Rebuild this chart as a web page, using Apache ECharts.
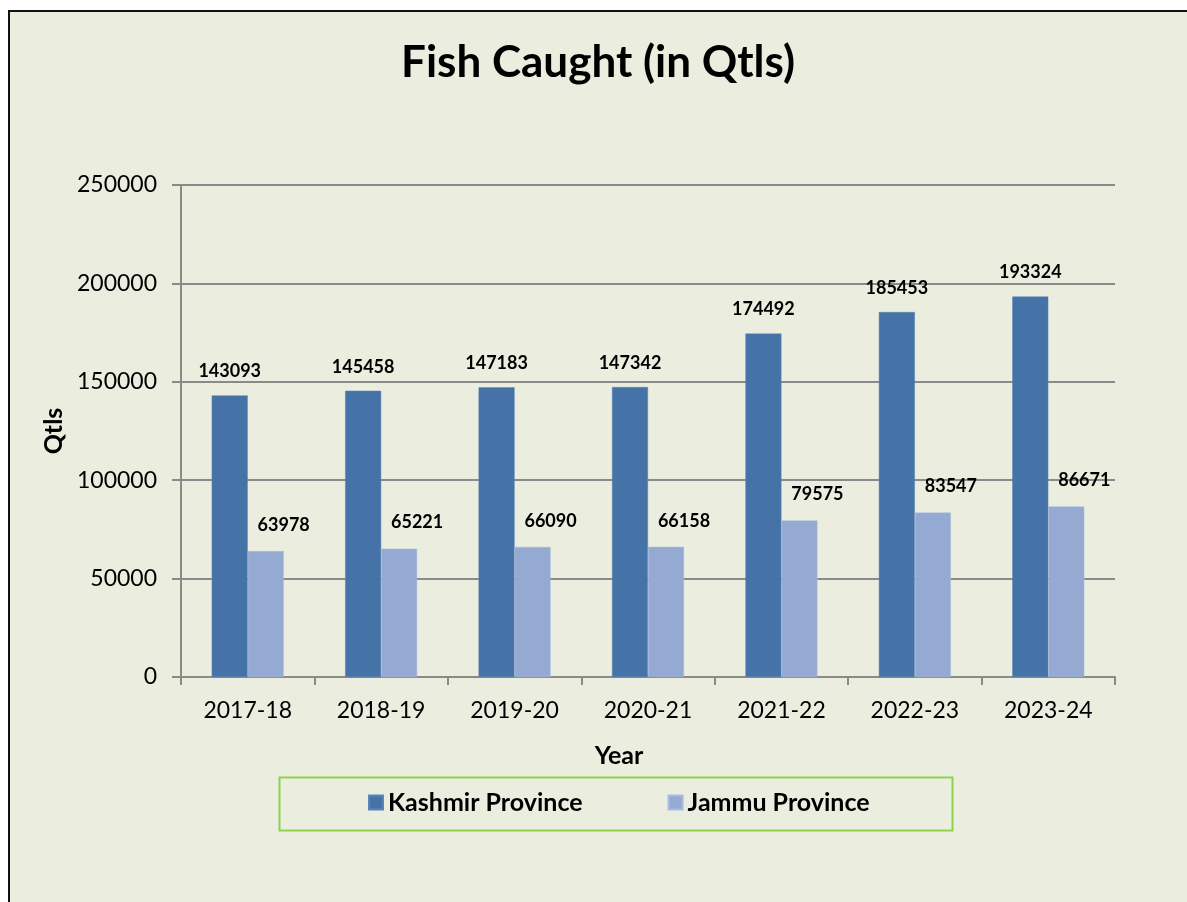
<!DOCTYPE html>
<html>
<head>
<meta charset="utf-8">
<script src="https://cdn.jsdelivr.net/npm/echarts@6/dist/echarts.min.js"></script>
<style>
html,body{margin:0;padding:0;background:#ffffff;width:1187px;height:902px;overflow:hidden;}
#box{position:absolute;left:8px;top:10px;width:1200px;height:920px;border:2px solid #111;background:#EBEEDF;box-sizing:border-box;}
#chart{position:absolute;left:0;top:0;width:1187px;height:902px;}
</style>
</head>
<body>
<div id="box"></div>
<div id="chart"></div>
<script>
const categories = ['2017-18','2018-19','2019-20','2020-21','2021-22','2022-23','2023-24'];
const kashmir = [143093,145458,147183,147342,174492,185453,193324];
const jammu = [63978,65221,66090,66158,79575,83547,86671];
const seriesNames = ['Kashmir Province','Jammu Province'];
const yTicks = {min:0, max:250000, interval:50000};

const FONT = 'Lato';
const chart = echarts.init(document.getElementById('chart'), null, {renderer:'canvas'});
chart.setOption({
  backgroundColor: 'transparent',
  animation: false,
  title: {
    text: 'Fish Caught (in Qtls)',
    left: 593, top: 36, textAlign: 'center',
    textStyle: {fontFamily: FONT, fontWeight: 'bold', fontSize: 44, color: '#000'}
  },
  graphic: [{
    type: 'rect', left: 277, top: 775, silent: true,
    shape: {width: 673, height: 53},
    style: {fill: 'none', stroke: '#92D050', lineWidth: 2}
  }],
  legend: {
    left: 363, top: 785,
    itemWidth: 14, itemHeight: 14, itemGap: 85,
    icon: 'rect',
    textStyle: {fontFamily: FONT, fontWeight: 'bold', fontSize: 25, color: '#000'},
    data: seriesNames
  },
  grid: {left: 181, right: 72, top: 185, bottom: 225, containLabel: false},
  xAxis: {
    type: 'category', data: categories,
    name: 'Year', nameLocation: 'middle', nameGap: 66,
    nameTextStyle: {fontFamily: FONT, fontWeight: 'bold', fontSize: 25, color: '#000', verticalAlign: 'top', padding: [0, 58, 0, 0]},
    axisLine: {lineStyle: {color: '#8a8a8a', width: 2}},
    axisTick: {show: true, length: 8, lineStyle: {color: '#8a8a8a', width: 2}},
    axisLabel: {fontFamily: FONT, fontSize: 23, color: '#000', margin: 22}
  },
  yAxis: {
    type: 'value', min: yTicks.min, max: yTicks.max, interval: yTicks.interval,
    name: 'Qtls', nameLocation: 'middle', nameGap: 114, nameRotate: 90,
    nameTextStyle: {fontFamily: FONT, fontWeight: 'bold', fontSize: 25, color: '#000'},
    axisLine: {show: true, lineStyle: {color: '#8a8a8a', width: 2}},
    axisTick: {show: true, length: 9, lineStyle: {color: '#8a8a8a', width: 2}},
    axisLabel: {fontFamily: FONT, fontSize: 23, color: '#000', margin: 24, formatter: v => String(v)},
    splitLine: {lineStyle: {color: '#8a8a8a', width: 2}}
  },
  series: [
    {
      name: seriesNames[0], type: 'bar', data: kashmir,
      barWidth: 36, barGap: '0%',
      itemStyle: {color: '#4572A7', borderColor: '#5a85b8', borderWidth: 0.5},
      label: {show: true, position: 'top', distance: 15,
        fontFamily: FONT, fontWeight: 'bold', fontSize: 18, color: '#000'}
    },
    {
      name: seriesNames[1], type: 'bar', data: jammu,
      barWidth: 36, barGap: '0%',
      itemStyle: {color: '#95AAD3', borderColor: '#a9bcde', borderWidth: 0.5},
      label: {show: true, position: 'top', distance: 17, offset: [18, 0],
        fontFamily: FONT, fontWeight: 'bold', fontSize: 18, color: '#000'}
    }
  ]
});
</script>
</body>
</html>
